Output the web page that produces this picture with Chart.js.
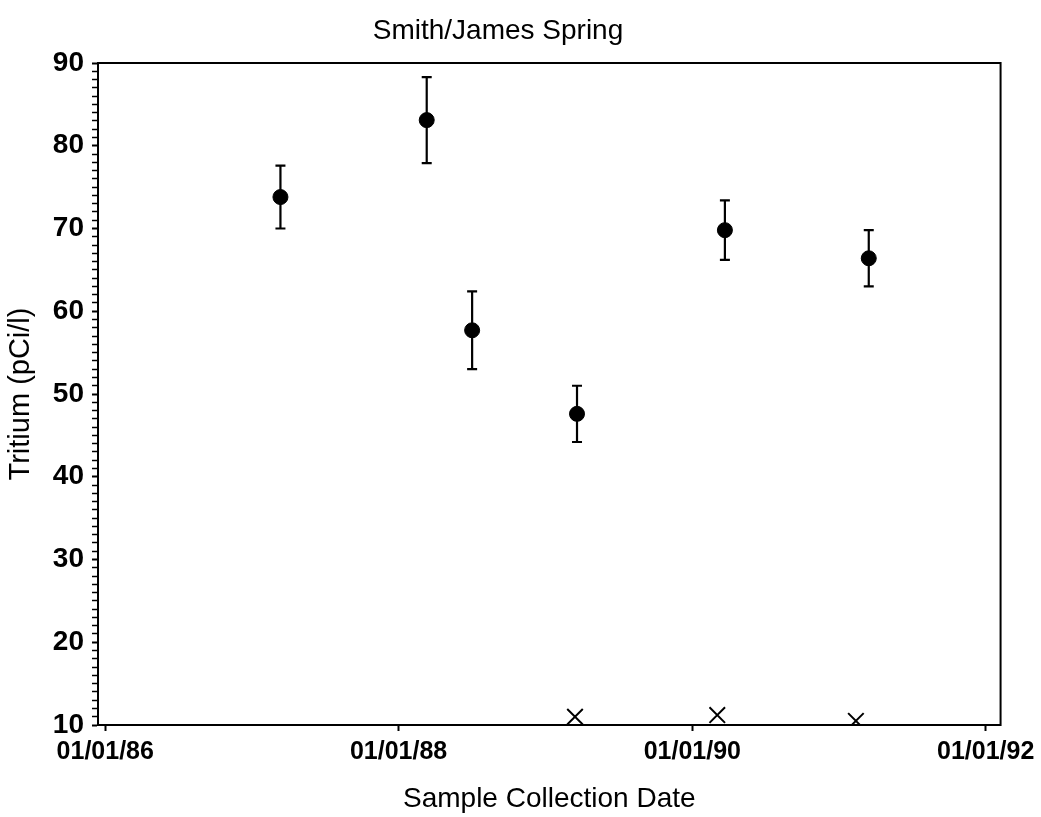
<!DOCTYPE html>
<html>
<head>
<meta charset="utf-8">
<title>Smith/James Spring</title>
<script src="https://cdn.jsdelivr.net/npm/chart.js@4.4.0/dist/chart.umd.min.js"></script>
<style>
  body { margin: 0; background: #fff; }
  #wrap { width: 1041px; height: 817px; }
</style>
</head>
<body>
<div id="wrap"><canvas id="chart" width="1041" height="817"></canvas></div>
<script>
// tritium samples (value +/- counting error)
const sampleDates = ["1987-03-13", "1988-03-11", "1988-07-02", "1989-03-20", "1990-03-23", "1991-03-16"];
const tritium = [73.8, 83.1, 57.7, 47.6, 69.8, 66.4];
const tritiumError = [3.8, 5.2, 4.7, 3.4, 3.6, 3.4];

// samples plotted with an x marker
const crossDates = ["1989-03-15", "1990-03-04", "1991-02-12"];
const crossValues = [11.0, 11.2, 10.5];

// axis settings
const xTickDates = ["1986-01-01", "1988-01-01", "1990-01-01", "1992-01-01"];
const xStart = "1985-12-14";
const xEnd = "1992-02-07";
const yMin = 10;
const yMax = 90;

const DAY = 86400000;
const toDay = (s) => Date.parse(s + "T00:00:00Z") / DAY;

function fmtDate(day) {
  const d = new Date(day * DAY);
  const mm = String(d.getUTCMonth() + 1).padStart(2, "0");
  const dd = String(d.getUTCDate()).padStart(2, "0");
  const yy = String(d.getUTCFullYear()).slice(2);
  return mm + "/" + dd + "/" + yy;
}

const FONT = "'Liberation Sans', Arial, Helvetica, sans-serif";

// error bars with caps for the first dataset
const errorBars = {
  id: "errorBars",
  afterDatasetsDraw(chart) {
    const { ctx } = chart;
    const y = chart.scales.y;
    const meta = chart.getDatasetMeta(0);
    ctx.save();
    ctx.strokeStyle = "#000";
    ctx.lineWidth = 2.2;
    meta.data.forEach((pt, i) => {
      const top = y.getPixelForValue(tritium[i] + tritiumError[i]);
      const bot = y.getPixelForValue(tritium[i] - tritiumError[i]);
      ctx.beginPath();
      ctx.moveTo(pt.x, top);
      ctx.lineTo(pt.x, bot);
      ctx.moveTo(pt.x - 5, top);
      ctx.lineTo(pt.x + 5, top);
      ctx.moveTo(pt.x - 5, bot);
      ctx.lineTo(pt.x + 5, bot);
      ctx.stroke();
    });
    ctx.restore();
  }
};

// frame round the plot + title
const frame = {
  id: "frame",
  afterDraw(chart) {
    const { ctx, chartArea: a } = chart;
    ctx.save();
    ctx.strokeStyle = "#000";
    ctx.lineWidth = 2;
    ctx.strokeRect(a.left, a.top, a.right - a.left, a.bottom - a.top);
    ctx.fillStyle = "#000";
    ctx.font = "28px " + FONT;
    ctx.textAlign = "center";
    ctx.textBaseline = "alphabetic";
    ctx.fillText("Smith/James Spring", 498, 39);
    ctx.restore();
  }
};

new Chart(document.getElementById("chart"), {
  type: "scatter",
  data: {
    datasets: [
      {
        label: "Tritium",
        data: sampleDates.map((d, i) => ({ x: toDay(d), y: tritium[i] })),
        backgroundColor: "#000",
        borderColor: "#000",
        pointRadius: 7.5,
        pointStyle: "circle"
      },
      {
        label: "Below detection",
        data: crossDates.map((d, i) => ({ x: toDay(d), y: crossValues[i] })),
        borderColor: "#000",
        backgroundColor: "#000",
        pointStyle: "crossRot",
        pointRadius: 11,
        borderWidth: 2
      }
    ]
  },
  options: {
    responsive: false,
    animation: false,
    layout: { padding: { top: 63, right: 39, left: 0, bottom: 0 } },
    plugins: {
      legend: { display: false },
      tooltip: { enabled: false }
    },
    scales: {
      x: {
        type: "linear",
        min: toDay(xStart),
        max: toDay(xEnd),
        afterBuildTicks(scale) {
          scale.ticks = xTickDates.map((d) => ({ value: toDay(d) }));
        },
        afterFit(scale) { scale.height = 92; },
        grid: { drawOnChartArea: false, tickLength: 6, tickColor: "#000", tickWidth: 2 },
        border: { color: "#000", width: 2 },
        ticks: {
          autoSkip: false,
          maxRotation: 0,
          padding: 6,
          color: "#000",
          font: { family: FONT, size: 25, weight: "bold" },
          callback: (v) => fmtDate(v)
        },
        title: {
          display: true,
          text: "Sample Collection Date",
          color: "#000",
          font: { family: FONT, size: 28 },
          padding: { top: 0, bottom: 1 }
        }
      },
      y: {
        min: yMin,
        max: yMax,
        afterFit(scale) { scale.width = 98; },
        grid: {
          drawOnChartArea: false,
          tickLength: 6,
          tickColor: "#000",
          tickWidth: (c) => (c.tick && c.tick.value % 10 === 0 ? 2 : 1.5)
        },
        border: { color: "#000", width: 2 },
        ticks: {
          stepSize: 1,
          autoSkip: false,
          padding: 8,
          color: "#000",
          font: { family: FONT, size: 28, weight: "bold" },
          callback: (v) => (v % 10 === 0 ? v : "")
        },
        title: {
          display: true,
          text: "Tritium (pCi/l)",
          color: "#000",
          font: { family: FONT, size: 29 },
          padding: { top: 4, bottom: 0 }
        }
      }
    }
  },
  plugins: [errorBars, frame]
});
</script>
</body>
</html>
